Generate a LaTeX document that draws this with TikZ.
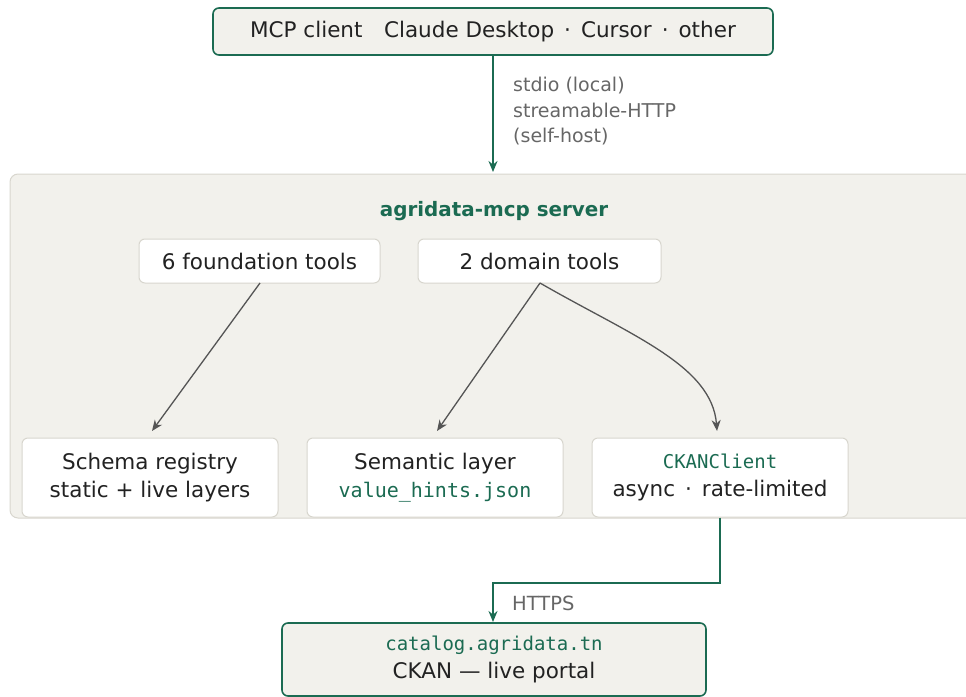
\documentclass[tikz,border=0pt]{standalone}
\usepackage{fontspec}
\setmainfont{DejaVu Sans}
\newfontfamily\codefont{DejaVu Sans Mono}
\usetikzlibrary{arrows.meta}
\definecolor{mcpgreen}{HTML}{1B6B52}
\definecolor{panel}{HTML}{F2F1EC}
\definecolor{panelline}{HTML}{D8D6CE}
\definecolor{labelgray}{HTML}{666666}
\definecolor{arrowgray}{HTML}{555555}
\definecolor{inktext}{HTML}{222222}
\tikzset{
  x=1pt, y=-1pt,
  outerbox/.style={draw=mcpgreen, line width=1.6pt, fill=panel, rounded corners=6pt,
    inner sep=0pt, align=center, text=inktext},
  innerbox/.style={draw=panelline, line width=1pt, fill=white, rounded corners=6pt,
    inner sep=0pt, align=center, text=inktext},
  mainfs/.style={font=\fontsize{21.5}{28.5}\selectfont},
  flowg/.style={draw=mcpgreen, line width=1.8pt, -{Stealth[length=11pt,width=9pt]}},
  flowk/.style={draw=arrowgray, line width=1.3pt, -{Stealth[length=11pt,width=9pt]}},
  note/.style={text=labelgray, font=\fontsize{19}{25.5}\selectfont, align=left, anchor=north west, inner sep=0pt},
}
\newcommand{\code}[1]{{\codefont\color{mcpgreen}#1}}
% separator dot with a little extra side spacing
\newcommand{\mdot}{\hspace{10pt}·\hspace{10pt}}
\begin{document}
\begin{tikzpicture}
\useasboundingbox (0,0) rectangle (966,696);
% server panel (runs past the right edge)
\node[draw=panelline, line width=1pt, fill=panel, rounded corners=8pt,
      minimum width=970pt, minimum height=344pt, inner sep=0pt] (server) at (495,346) {};
\node[text=mcpgreen, font=\bfseries\fontsize{19.9}{23}\selectfont] (title) at (494,211) {agridata-mcp server};

% client
\node[outerbox, mainfs, minimum width=560pt, minimum height=47pt] (client) at (493,31.5)
  {MCP client\hspace{1em}Claude Desktop\mdot Cursor\mdot other};

% tool groups
\node[innerbox, mainfs, minimum width=241pt, minimum height=44pt] (found) at (259.5,261) {6 foundation tools};
\node[innerbox, mainfs, minimum width=243pt, minimum height=44pt] (domain) at (539.5,261) {2 domain tools};

% components
\node[innerbox, mainfs, minimum width=256pt, minimum height=79pt] (schema) at (150,477.5)
  {Schema registry\\static + live layers};
\node[innerbox, mainfs, minimum width=256pt, minimum height=79pt] (semantic) at (435,477.5)
  {Semantic layer\\[-1pt]{\fontsize{20}{24}\selectfont\code{value\_hints.json}}};
\node[innerbox, mainfs, minimum width=256pt, minimum height=79pt] (ckan) at (720,477.5)
  {{\fontsize{19}{20}\selectfont\code{CKANClient}}\\async\mdot rate-limited};

% portal
\node[outerbox, mainfs, minimum width=424pt, minimum height=73pt] (portal) at (494,659.5)
  {{\fontsize{19}{22}\selectfont\code{catalog.agridata.tn}}\\CKAN — live portal};

% transport
\draw[flowg] (client.south) -- (493,172);
\node[note] (transport) at (513,77) {stdio (local)\\streamable-HTTP\\(self-host)};

% internal flows
\coordinate (fs) at (260,283);
\coordinate (ds) at (540,283);
\draw[flowk] (fs) -- (152,431);
\draw[flowk] (ds) -- (437,431);
\draw[flowk] (ds) .. controls (630,335) and (712,365) .. (717,431);

% outbound HTTPS
\coordinate (bend1) at (720,583);
\coordinate (bend2) at (493,583);
\draw[draw=mcpgreen, line width=1.8pt, -{Stealth[length=11pt,width=9pt]}]
  (ckan.south) -- (bend1) -- (bend2) -- (493,622);
\node[text=labelgray, font=\fontsize{19.5}{20}\selectfont, anchor=west, inner sep=0pt] (https) at (512,603) {HTTPS};
\end{tikzpicture}
\end{document}
